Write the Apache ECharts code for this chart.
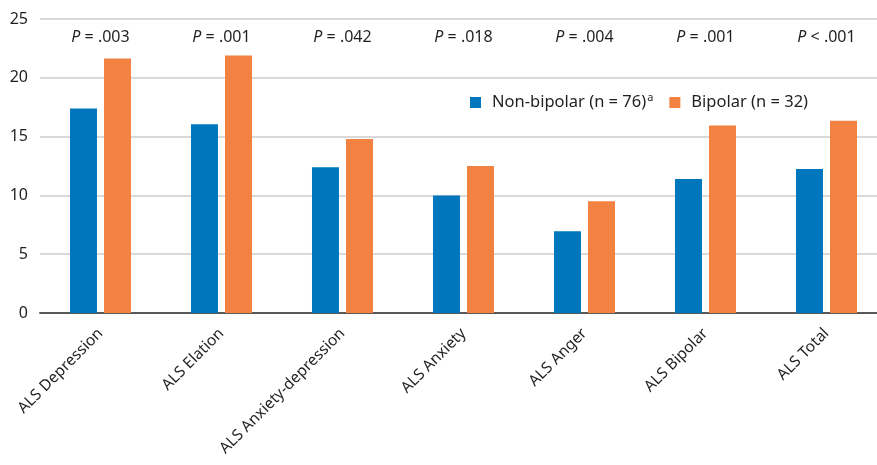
<!DOCTYPE html>
<html>
<head>
<meta charset="utf-8">
<script src="https://cdn.jsdelivr.net/npm/echarts@6/dist/echarts.min.js"></script>
<style>
  html, body { margin: 0; padding: 0; background: #fff; overflow: hidden; }
  /* plot runs a little past the right edge, like the cropped original */
  #chart { width: 887px; height: 465px; }
</style>
</head>
<body>
<div id="chart"></div>
<script>
  // data
  const categories = ['ALS Depression', 'ALS Elation', 'ALS Anxiety-depression', 'ALS Anxiety', 'ALS Anger', 'ALS Bipolar', 'ALS Total'];
  const nonBipolar = [17.4, 16.05, 12.4, 10.0, 6.95, 11.4, 12.25];
  const bipolar = [21.65, 21.9, 14.8, 12.5, 9.5, 15.95, 16.35];
  const pLabels = ['P = .003', 'P = .001', 'P = .042', 'P = .018', 'P = .004', 'P = .001', 'P < .001'];
  const yTicks = [0, 5, 10, 15, 20, 25];

  const nameNon = 'Non-bipolar (n = 76)';
  const nameBip = 'Bipolar (n = 32)';
  const font = 'Noto Sans';
  const textColor = '#231f20';

  const chart = echarts.init(document.getElementById('chart'));
  const option = {
    animation: false,
    textStyle: { fontFamily: font },
    grid: {
      left: 40,
      right: 0,
      top: 19,
      bottom: 152
    },
    legend: {
      left: 465,
      top: 87,
      icon: 'rect',
      itemWidth: 11,
      itemHeight: 11,
      itemGap: 16,
      textStyle: {
        fontFamily: font,
        fontSize: 16.5,
        color: textColor,
        rich: {
          t: { fontFamily: font, fontSize: 16.5, color: textColor, padding: [0, 0, 0, 6] },
          sup: { fontFamily: font, fontSize: 11, color: textColor, verticalAlign: 'top', padding: [0, 0, 10, 1] }
        }
      },
      formatter: function (name) {
        return name === nameNon ? '{t|' + name + '}{sup|a}' : '{t|' + name + '}';
      },
      data: [nameNon, nameBip]
    },
    xAxis: [
      {
        type: 'category',
        data: categories,
        axisLine: { show: true, lineStyle: { color: '#595959', width: 2 } },
        axisTick: { show: false },
        axisLabel: {
          interval: 0,
          rotate: 45,
          margin: 18,
          fontFamily: font,
          fontSize: 15.5,
          color: textColor
        }
      },
      {
        type: 'category',
        position: 'top',
        data: pLabels,
        axisLine: { show: false },
        axisTick: { show: false },
        axisLabel: {
          inside: true,
          interval: 0,
          margin: 10,
          fontFamily: font,
          fontSize: 16,
          color: textColor,
          formatter: function (v) {
            return '{i|' + v.slice(0, 1) + '}{n|' + v.slice(1) + '}';
          },
          rich: {
            i: { fontFamily: font, fontSize: 16, fontStyle: 'italic', color: textColor },
            n: { fontFamily: font, fontSize: 16, color: textColor }
          }
        }
      }
    ],
    yAxis: {
      type: 'value',
      min: yTicks[0],
      max: yTicks[yTicks.length - 1],
      interval: 5,
      axisLine: { show: false },
      axisTick: { show: false },
      axisLabel: { margin: 12, fontFamily: font, fontSize: 16, color: textColor },
      splitLine: { lineStyle: { color: '#d9d9d9', width: 2 } }
    },
    series: [
      {
        name: nameNon,
        type: 'bar',
        barWidth: 27,
        barGap: '26%',
        itemStyle: { color: '#0077bd' },
        data: nonBipolar
      },
      {
        name: nameBip,
        type: 'bar',
        barWidth: 27,
        itemStyle: { color: '#f28241' },
        data: bipolar
      }
    ]
  };
  chart.setOption(option);
  window.addEventListener('resize', function () {
    chart.resize();
  });
</script>
</body>
</html>
